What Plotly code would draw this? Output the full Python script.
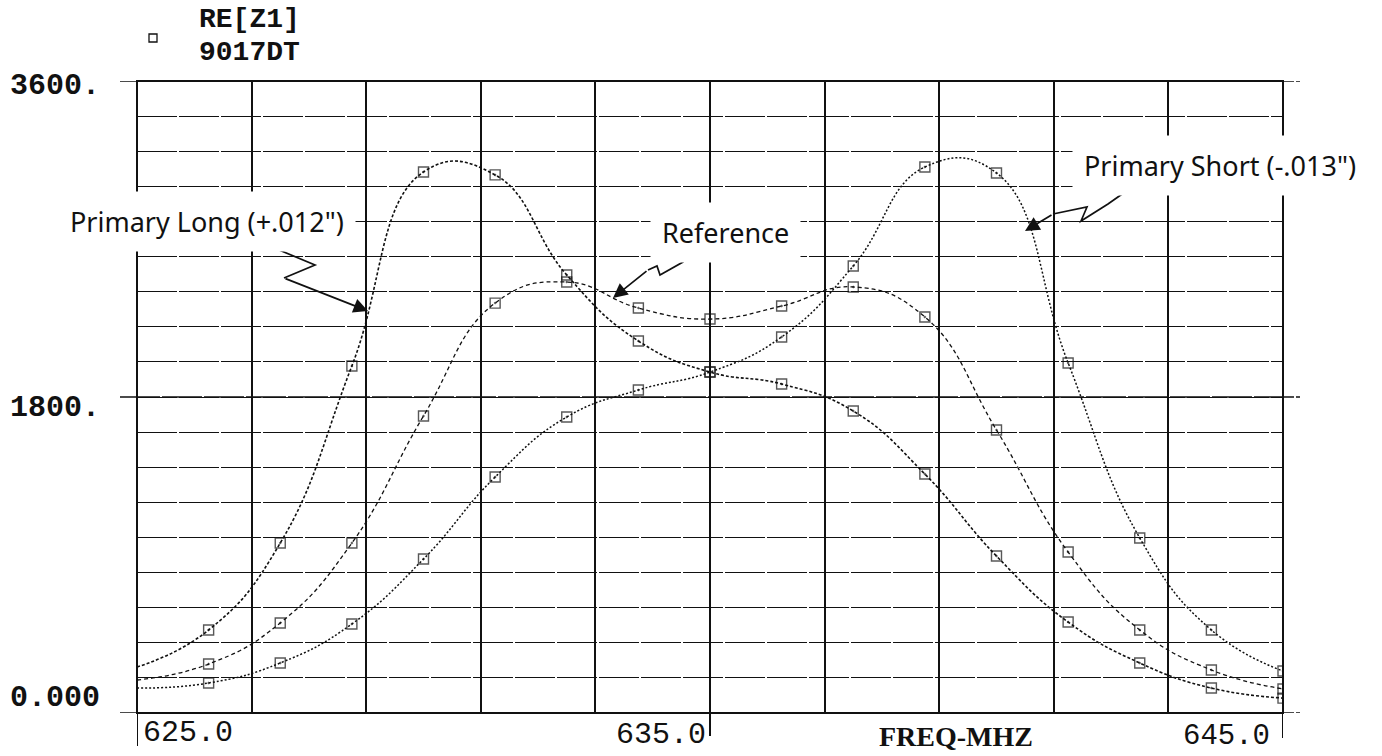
import plotly.graph_objects as go

# ---------------- data ----------------
freq_mhz = [625.0, 626.25, 627.5, 628.75, 630.0, 631.25, 632.5, 633.75, 635.0,
            636.25, 637.5, 638.75, 640.0, 641.25, 642.5, 643.75, 645.0]
primary_long = [262, 473, 968, 1977, 3082, 3065, 2495, 2119, 1942,
                1874, 1720, 1361, 894, 518, 285, 142, 85]
reference = [188, 279, 513, 968, 1692, 2335, 2455, 2307, 2244,
             2318, 2427, 2256, 1612, 917, 473, 245, 137]
primary_short = [142, 171, 285, 507, 877, 1344, 1686, 1840, 1942,
                 2142, 2546, 3110, 3076, 1994, 997, 473, 239]

y_tick_labels = {3600: "3600.", 1800: "1800.", 0: "0.000"}
x_tick_labels = {625: "625.0", 635: "635.0", 645: "645.0"}
x_title = "FREQ-MHZ"
title_lines = ["RE[Z1]", "9017DT"]

# ---------------- layout geometry ----------------
W, H = 1382, 756
L, R, T, B = 137, 1283, 81, 713
XMIN, XMAX, YMIN, YMAX = 625, 645, 0, 3600


def pxx(x):  # pixel -> paper x
    return (x - L) / (R - L)


def pyy(y):  # pixel -> paper y
    return (B - y) / (B - T)


def dx(x):  # pixel -> data x
    return XMIN + (x - L) / (R - L) * (XMAX - XMIN)


def dy(y):  # pixel -> data y
    return YMIN + (B - y) / (B - T) * (YMAX - YMIN)


fig = go.Figure()

msize = [0] + [10] * (len(freq_mhz) - 1)
series = [
    (primary_long, "3px,2px", 1.6),
    (reference, "4px,3px", 1.3),
    (primary_short, "2px,2px", 1.5),
]
for vals, dash, w in series:
    fig.add_trace(go.Scatter(
        x=freq_mhz, y=vals, mode="lines+markers",
        line=dict(color="#111", width=w, dash=dash, shape="spline", smoothing=1.3),
        marker=dict(symbol="square-open-dot", size=msize, color="#111",
                    line=dict(width=1.4, color="#111")),
        showlegend=False, hoverinfo="skip",
    ))

mono = "Liberation Mono"
sans = "Noto Sans"
ann = []

# y tick labels
for v, txt, ypix in [(3600, y_tick_labels[3600], 86), (1800, y_tick_labels[1800], 408),
                     (0, y_tick_labels[0], 698)]:
    ann.append(dict(x=pxx(102), y=pyy(ypix), xref="paper", yref="paper", text=txt,
                    xanchor="right", yanchor="middle", showarrow=False,
                    font=dict(family=mono, size=30, color="#111", weight="bold")))

# x tick labels
ann.append(dict(x=pxx(141), y=pyy(733), xref="paper", yref="paper", text=x_tick_labels[625],
                xanchor="left", yanchor="middle", showarrow=False,
                font=dict(family=mono, size=30, color="#111")))
ann.append(dict(x=pxx(708), y=pyy(735), xref="paper", yref="paper", text=x_tick_labels[635],
                xanchor="right", yanchor="middle", showarrow=False,
                font=dict(family=mono, size=30, color="#111")))
ann.append(dict(x=pxx(1272), y=pyy(736), xref="paper", yref="paper", text=x_tick_labels[645],
                xanchor="right", yanchor="middle", showarrow=False,
                font=dict(family=mono, size=29, color="#111")))
ann.append(dict(x=pxx(956), y=pyy(736), xref="paper", yref="paper", text=x_title,
                xanchor="center", yanchor="middle", showarrow=False,
                font=dict(family="Liberation Serif", size=28, color="#111", weight="bold")))

# title block
ann.append(dict(x=pxx(197), y=pyy(20), xref="paper", yref="paper", text=title_lines[0],
                xanchor="left", yanchor="middle", showarrow=False,
                font=dict(family=mono, size=28, color="#111", weight="bold")))
ann.append(dict(x=pxx(197), y=pyy(53), xref="paper", yref="paper", text=title_lines[1],
                xanchor="left", yanchor="middle", showarrow=False,
                font=dict(family=mono, size=28, color="#111", weight="bold")))

# curve labels with white boxes
for txt, cx, cy in [("Primary Long (+.012\")", 207, 222),
                    ("Reference", 725, 232),
                    ("Primary Short (-.013\")", 1220, 165)]:
    ann.append(dict(x=pxx(cx), y=pyy(cy), xref="paper", yref="paper", text=txt,
                    xanchor="center", yanchor="middle", showarrow=False,
                    bgcolor="white", borderpad=11,
                    font=dict(family=sans, size=27, color="#111")))

# arrow heads (final segment of each squiggle)
for (x0, y0), (x1, y1) in [((284, 278), (368, 311)),
                           ((648, 270), (613, 298)),
                           ((1053, 214), (1025, 231))]:
    ann.append(dict(x=dx(x1), y=dy(y1), ax=dx(x0), ay=dy(y0), xref="x", yref="y",
                    axref="x", ayref="y", text="", showarrow=True,
                    arrowhead=2, arrowsize=1.7, arrowwidth=1.7, arrowcolor="#111"))

shapes = []


def path(pts):
    return "M " + " L ".join(f"{dx(x)},{dy(y)}" for x, y in pts)


for pts in [[(260, 242), (315, 265), (284, 278)],
            [(695, 248), (683, 262), (660, 275), (657, 266), (648, 270)],
            [(1135, 185), (1108, 204), (1081, 221), (1087, 207), (1053, 214)]]:
    shapes.append(dict(type="path", path=path(pts), xref="x", yref="y",
                       line=dict(color="#111", width=1.7), layer="above"))

# border frame
shapes.append(dict(type="rect", xref="paper", yref="paper", x0=0, x1=1, y0=0, y1=1,
                   line=dict(color="#111", width=2), layer="below"))
# extended labelled lines
for yv in (0, 1800, 3600):
    shapes.append(dict(type="line", xref="paper", yref="y", x0=pxx(120), x1=pxx(1300),
                       y0=yv, y1=yv, line=dict(color="#111", width=1.6, dash="40px,2px"),
                       layer="below"))
for xv, ybot in ((625, 746), (635, 736), (645, 738)):
    shapes.append(dict(type="line", xref="x", yref="paper", x0=xv, x1=xv,
                       y0=pyy(ybot), y1=1, line=dict(color="#111", width=2), layer="below"))
# legend square in title
shapes.append(dict(type="rect", xref="paper", yref="paper", x0=pxx(149), x1=pxx(157),
                   y0=pyy(42), y1=pyy(34), line=dict(color="#111", width=1.3)))

fig.update_layout(
    width=W, height=H,
    margin=dict(l=L, r=W - R, t=T, b=H - B),
    paper_bgcolor="white", plot_bgcolor="white",
    xaxis=dict(range=[XMIN, XMAX], tickvals=list(range(625, 646, 2)),
               showticklabels=False, ticks="", showgrid=True,
               gridcolor="#111", gridwidth=2, zeroline=False, showline=False),
    yaxis=dict(range=[YMIN, YMAX], tickvals=list(range(0, 3601, 200)),
               showticklabels=False, ticks="", showgrid=True,
               gridcolor="#111", gridwidth=1.4, griddash="40px,2px",
               zeroline=False, showline=False),
    annotations=ann, shapes=shapes,
)

fig.write_html("out.html")
